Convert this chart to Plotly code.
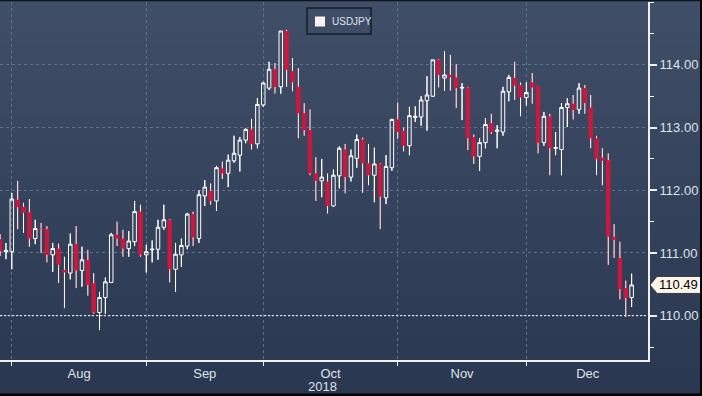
import plotly.graph_objects as go
import pandas as pd

# ---------------- data (USDJPY daily candles) ----------------
series_name = "USDJPY"
start_date = "2018-07-30"

open_ = [111.22, 111.02, 111.02, 111.85, 111.74, 111.65, 111.23, 111.39, 111.38, 110.97,
         111.07, 110.73, 110.68, 111.14, 110.72, 110.89, 110.52, 110.05, 110.29, 110.53,
         111.29, 111.23, 111.07, 111.18, 111.66, 110.97, 111.05, 111.06, 111.41, 111.53,
         110.74, 110.97, 111.11, 111.62, 111.23, 111.91, 111.99, 111.83, 112.35, 112.27,
         112.47, 112.56, 112.80, 112.97, 112.74, 113.36, 113.63, 113.93, 113.65, 114.54,
         113.90, 113.65, 113.23, 112.96, 112.27, 112.15, 112.14, 111.75, 112.23, 112.65,
         112.21, 112.51, 112.81, 112.43, 112.24, 112.42, 111.88, 112.36, 113.13, 112.95,
         112.71, 113.16, 113.17, 113.43, 113.50, 114.08, 113.79, 113.84, 113.80, 113.63,
         113.64, 112.85, 112.54, 112.76, 113.07, 112.94, 112.93, 113.57, 113.79, 113.68,
         113.48, 113.72, 113.66, 112.76, 113.18, 112.67, 112.65, 113.32, 113.38, 113.29,
         113.63, 113.32, 112.83, 112.52, 112.48, 111.26, 110.92, 110.44, 110.29]
high = [111.30, 111.16, 111.96, 112.15, 111.80, 111.86, 111.53, 111.48, 111.43, 111.16,
        111.15, 110.94, 111.31, 111.43, 111.10, 111.05, 110.68, 110.38, 110.61, 111.32,
        111.50, 111.37, 111.35, 111.83, 111.77, 111.13, 111.20, 111.53, 111.77, 111.54,
        111.16, 111.23, 111.64, 111.66, 112.00, 112.16, 112.11, 112.39, 112.46, 112.57,
        112.87, 112.85, 112.99, 113.14, 113.47, 113.73, 114.05, 114.03, 114.54, 114.56,
        114.11, 113.95, 113.39, 113.29, 112.53, 112.50, 112.27, 112.33, 112.70, 112.74,
        112.65, 112.89, 112.84, 112.74, 112.68, 112.43, 112.56, 113.14, 113.40, 113.00,
        113.33, 113.34, 113.50, 113.82, 114.08, 114.09, 114.22, 114.16, 114.01, 113.71,
        113.65, 112.89, 112.83, 113.15, 113.22, 113.04, 113.65, 113.84, 114.05, 113.72,
        113.72, 113.87, 113.66, 113.25, 113.22, 112.93, 113.39, 113.47, 113.52, 113.71,
        113.68, 113.52, 112.87, 112.67, 112.59, 111.46, 111.18, 110.56, 110.67]
low = [110.95, 110.90, 110.74, 111.38, 111.32, 111.10, 111.14, 111.00, 110.85, 110.70,
       110.52, 110.12, 110.58, 110.44, 110.46, 110.32, 110.03, 109.77, 110.03, 110.52,
       111.11, 110.94, 110.94, 111.11, 110.94, 110.69, 110.85, 110.89, 111.37, 110.53,
       110.38, 110.78, 111.06, 111.11, 111.16, 111.75, 111.77, 111.67, 112.18, 112.05,
       112.44, 112.30, 112.75, 112.65, 112.67, 113.33, 113.60, 113.54, 113.54, 113.65,
       113.58, 112.83, 112.87, 112.24, 111.83, 111.89, 111.63, 111.74, 112.03, 111.95,
       112.14, 112.36, 111.96, 112.08, 111.81, 111.38, 111.78, 112.31, 112.82, 112.62,
       112.56, 113.09, 113.03, 112.95, 113.49, 113.64, 113.59, 113.59, 113.31, 113.12,
       112.64, 112.42, 112.31, 112.67, 112.90, 112.67, 112.87, 113.42, 113.44, 113.18,
       113.35, 113.38, 112.59, 112.71, 112.24, 112.56, 112.24, 113.01, 113.13, 113.22,
       113.22, 112.67, 112.24, 112.08, 110.81, 110.92, 110.26, 109.98, 110.14]
close = [111.03, 111.04, 111.86, 111.73, 111.64, 111.23, 111.39, 111.38, 110.97, 111.07,
         110.81, 110.69, 111.14, 110.72, 110.89, 110.49, 110.05, 110.29, 110.54, 111.29,
         111.23, 111.07, 111.19, 111.66, 110.97, 111.02, 111.06, 111.41, 111.53, 110.74,
         110.98, 111.12, 111.62, 111.25, 111.93, 112.05, 111.83, 112.36, 112.27, 112.48,
         112.59, 112.80, 112.97, 112.74, 113.37, 113.71, 113.93, 113.65, 114.54, 113.92,
         113.72, 113.23, 112.96, 112.27, 112.15, 112.21, 111.75, 112.24, 112.67, 112.21,
         112.55, 112.81, 112.43, 112.24, 112.42, 111.90, 112.38, 113.13, 112.93, 112.71,
         113.19, 113.18, 113.44, 113.52, 114.08, 113.84, 113.84, 113.80, 113.63, 113.64,
         112.83, 112.54, 112.76, 113.05, 112.93, 112.96, 113.58, 113.80, 113.67, 113.48,
         113.56, 113.64, 112.76, 113.18, 112.67, 112.68, 113.32, 113.38, 113.28, 113.63,
         113.39, 112.83, 112.50, 112.47, 111.26, 111.21, 110.42, 110.28, 110.49]

y_tick_values = [110, 111, 112, 113, 114]
label_months = [8, 9, 10, 11, 12]
month_names = ["Aug", "Sep", "Oct", "Nov", "Dec"]
year_label = "2018"
reference_level = 110.0

# ---------------- derived positions (trading-day axis) ----------------
dates = pd.bdate_range(start_date, periods=len(close))
idx = list(range(len(close)))

month_start_idx = []
month_label_pos = []
for m in label_months:
    first = pd.Timestamp(2018, m, 1)
    full = pd.bdate_range(first, first + pd.offsets.MonthEnd(0))
    s = int(dates.get_loc(full[0]))
    month_start_idx.append(s)
    month_label_pos.append(s + len(full) / 2)

# ---------------- styling ----------------
W, H = 702, 396
ML, MR, MT, MB = 0, 54, 2, 36
PW, PH = W - ML - MR, H - MT - MB
YR = [109.293, 115.003]
FONT = "Liberation Sans, Arial, sans-serif"
AXIS = "#eef0f4"
LABEL = "#dfe2e8"
GRID = "#5d7190"
RED = "#c8193f"

def px(xp):   # pixel x -> paper x
    return (xp - ML) / PW

def py(yp):   # pixel y -> paper y
    return (MT + PH - yp) / PH

fig = go.Figure()

# candle bodies (and library whiskers)
fig.add_trace(go.Candlestick(
    x=idx, open=open_, high=high, low=low, close=close, name=series_name,
    increasing=dict(line=dict(color="#ffffff", width=1), fillcolor="rgba(0,0,0,0)"),
    decreasing=dict(line=dict(color=RED, width=1), fillcolor=RED),
    whiskerwidth=0, showlegend=False, hoverinfo="skip",
))

# white wicks above / below each body
wx, wy = [], []
for i, o, h, l, c in zip(idx, open_, high, low, close):
    top, bot = max(o, c), min(o, c)
    wx += [i, i, None, i, i, None]
    wy += [h, top, None, bot, l, None]
fig.add_trace(go.Scatter(x=wx, y=wy, mode="lines", line=dict(color="#ffffff", width=1),
                         showlegend=False, hoverinfo="skip"))

shapes = []
# background gradient
N = 44
top_c, bot_c = (64, 78, 104), (42, 55, 80)
for k in range(N):
    t = k / (N - 1)
    col = tuple(round(a + (b - a) * t) for a, b in zip(top_c, bot_c))
    shapes.append(dict(type="rect", xref="paper", yref="paper", layer="below",
                       x0=px(-2), x1=px(W + 2), y0=py((k + 1) * H / N + 0.5), y1=py(k * H / N - 0.5),
                       line=dict(width=0), fillcolor="rgb(%d,%d,%d)" % col))
# reference dashed line at 110.00
shapes.append(dict(type="line", xref="paper", yref="y", x0=0, x1=1, y0=reference_level, y1=reference_level,
                   line=dict(color="#ffffff", width=1, dash="2px,2px"), layer="above"))
# legend box
shapes.append(dict(type="rect", xref="paper", yref="paper", x0=px(307), x1=px(371), y0=py(34), y1=py(8),
                   line=dict(color="#151c2a", width=1.5), fillcolor="rgba(0,0,0,0)", layer="above"))
shapes.append(dict(type="rect", xref="paper", yref="paper", x0=px(315), x1=px(325), y0=py(26.5), y1=py(16.5),
                   line=dict(width=0), fillcolor="#fdf1ef", layer="above"))
# last price tag
lc = close[-1]
hh = 8.5 / (PH / (YR[1] - YR[0]))
tag = "M {a},{c} L {b},{u} L {e},{u} L {e},{d} L {b},{d} Z".format(
    a=px(650), b=px(657), e=px(703), c=lc, u=lc + hh, d=lc - hh)
shapes.append(dict(type="path", xref="paper", yref="y", path=tag, fillcolor="#fdf4ea",
                   line=dict(color="#3a3a3a", width=1), layer="above"))
# dark frame (top, right, bottom)
shapes.append(dict(type="line", xref="paper", yref="paper", x0=px(0), x1=px(W), y0=py(0.5), y1=py(0.5),
                   line=dict(color="#10141c", width=1.5), layer="above"))
shapes.append(dict(type="line", xref="paper", yref="paper", x0=px(701), x1=px(701), y0=py(0), y1=py(H),
                   line=dict(color="#000000", width=2), layer="above"))
shapes.append(dict(type="line", xref="paper", yref="paper", x0=px(0), x1=px(W), y0=py(394.8), y1=py(394.8),
                   line=dict(color="#000000", width=2.5), layer="above"))

annotations = [
    dict(text=series_name, xref="paper", yref="paper", x=px(329.5), y=py(21.5), xanchor="left",
         yanchor="middle", showarrow=False, font=dict(family=FONT, size=10, color=LABEL)),
    dict(text="%.2f" % lc, xref="paper", yref="y", x=px(657.5), y=lc, xanchor="left", yanchor="middle",
         showarrow=False, font=dict(family=FONT, size=13, color="#000000")),
    dict(text=year_label, xref="x", yref="paper", x=month_label_pos[2] - 1.4, y=py(386.5),
         xanchor="center", yanchor="middle", showarrow=False, font=dict(family=FONT, size=13, color=LABEL)),
]

fig.update_layout(
    width=W, height=H, margin=dict(l=ML, r=MR, t=MT, b=MB, pad=0),
    paper_bgcolor="rgb(52,65,91)", plot_bgcolor="rgba(0,0,0,0)",
    showlegend=False, boxgap=0.25, boxgroupgap=0.2,
    font=dict(family=FONT, size=13, color=LABEL),
    shapes=shapes, annotations=annotations,
    xaxis=dict(range=[-0.02, 110.8], tickmode="array", tickvals=month_label_pos, ticktext=month_names,
               ticks="", showgrid=False, showline=True, linecolor=AXIS, linewidth=2, zeroline=False,
               tickfont=dict(family=FONT, size=13, color=LABEL),
               minor=dict(tickmode="array", tickvals=month_start_idx, ticks="outside", ticklen=4,
                          tickwidth=1, tickcolor=AXIS, showgrid=True, gridcolor=GRID, griddash="dot",
                          gridwidth=1),
               rangeslider=dict(visible=False), fixedrange=True),
    yaxis=dict(side="right", range=YR, tickmode="array", tickvals=y_tick_values,
               tickformat=".2f", showline=True, linecolor=AXIS, linewidth=2, ticks="outside", ticklen=7,
               tickwidth=2, tickcolor=AXIS, showgrid=True, gridcolor=GRID, griddash="dot", gridwidth=1,
               zeroline=False, tickfont=dict(family=FONT, size=13, color=LABEL),
               minor=dict(dtick=0.5, tick0=109.5, ticks="outside", ticklen=4, tickwidth=1,
                          tickcolor=AXIS, showgrid=False),
               fixedrange=True),
)

fig.write_html(
    "out.html",
    config={"displayModeBar": False},
    post_script="document.body.style.margin='0';document.body.style.padding='0';"
                "document.body.style.overflow='hidden';",
)
